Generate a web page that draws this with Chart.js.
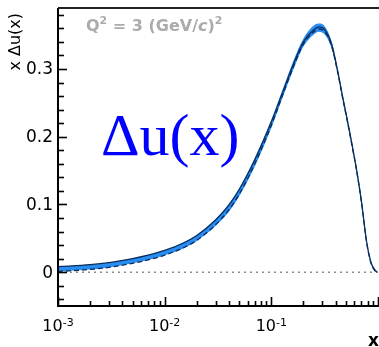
<!DOCTYPE html>
<html>
<head>
<meta charset="utf-8">
<script src="https://cdn.jsdelivr.net/npm/chart.js@4.4.1/dist/chart.umd.min.js"></script>
<style>
  html, body { margin: 0; padding: 0; background: #fff; }
  canvas { display: block; }
</style>
</head>
<body>
<canvas id="pdfChart" width="379" height="347"></canvas>
<script>
// x values (log scale) and x*Delta u(x) curves
const xValues     = [0.001, 0.002, 0.003, 0.005, 0.007, 0.01, 0.015, 0.02, 0.03, 0.04, 0.05, 0.07, 0.1, 0.13, 0.16, 0.2, 0.25, 0.28, 0.32, 0.37, 0.42, 0.47, 0.52, 0.57, 0.63, 0.7, 0.78, 0.85, 0.9, 0.95, 0.98];
const centralLine = [0.008, 0.011, 0.014, 0.020, 0.025, 0.032, 0.043, 0.054, 0.077, 0.099, 0.122, 0.166, 0.222, 0.269, 0.306, 0.340, 0.358, 0.362, 0.357, 0.335, 0.296, 0.256, 0.222, 0.189, 0.151, 0.104, 0.046, 0.017, 0.007, 0.002, 0];
const dashedLine  = [0.001, 0.004, 0.007, 0.013, 0.018, 0.025, 0.036, 0.047, 0.070, 0.092, 0.115, 0.160, 0.217, 0.265, 0.302, 0.337, 0.355, 0.359, 0.354, 0.332, 0.294, 0.254, 0.220, 0.187, 0.150, 0.103, 0.045, 0.016, 0.006, 0.001, 0];
const bandHigh    = [0.008, 0.011, 0.014, 0.020, 0.025, 0.032, 0.044, 0.055, 0.078, 0.101, 0.124, 0.169, 0.225, 0.273, 0.311, 0.345, 0.364, 0.367, 0.362, 0.339, 0.299, 0.259, 0.224, 0.191, 0.153, 0.106, 0.047, 0.018, 0.008, 0.003, 0];
const bandLow     = [0.001, 0.004, 0.007, 0.013, 0.018, 0.025, 0.035, 0.046, 0.068, 0.089, 0.112, 0.156, 0.213, 0.261, 0.298, 0.333, 0.351, 0.355, 0.350, 0.329, 0.292, 0.252, 0.218, 0.186, 0.149, 0.102, 0.044, 0.015, 0.005, 0.001, 0];

const yTickValues = [0, 0.1, 0.2, 0.3];
const yTickLabels = ["0", "0.1", "0.2", "0.3"];
const xTickExponents = [-3, -2, -1];

const NAVY = "#0a2d5e";
const BAND = "rgb(40,140,240)";
const SANS = '"DejaVu Sans", Arial, sans-serif';

function pts(arr) {
    return xValues.map((x, i) => ({ x: x, y: arr[i] }));
}

// zero line, inward ticks, frame and all the text
const frameAndLabels = {
    id: "frameAndLabels",
    beforeDatasetsDraw(chart) {
        const { ctx, chartArea: a, scales: { y } } = chart;
        const y0 = y.getPixelForValue(0);
        ctx.save();
        ctx.strokeStyle = "#8c8c8c";
        ctx.lineWidth = 1.5;
        ctx.setLineDash([2, 4]);
        ctx.beginPath();
        ctx.moveTo(a.left, y0);
        ctx.lineTo(a.right, y0);
        ctx.stroke();
        ctx.restore();
    },
    afterDraw(chart) {
        const { ctx, chartArea: a, scales: { x, y } } = chart;
        ctx.save();

        // frame
        ctx.strokeStyle = "#000";
        ctx.lineWidth = 2;
        ctx.beginPath();
        ctx.moveTo(a.left, a.top);
        ctx.lineTo(a.left, a.bottom);
        ctx.lineTo(a.right + 2, a.bottom);
        ctx.stroke();
        ctx.strokeStyle = "#222";
        ctx.beginPath();
        ctx.moveTo(a.left, a.top);
        ctx.lineTo(a.right + 2, a.top);
        ctx.stroke();

        // y ticks every 0.02, major every 0.1
        ctx.strokeStyle = "#000";
        ctx.lineWidth = 1.6;
        for (let i = -2; i <= 19; i++) {
            const py = Math.round(y.getPixelForValue(i * 0.02)) + 0.5;
            if (py < a.top || py > a.bottom) continue;
            const len = i % 5 === 0 ? 9 : 6;
            ctx.beginPath();
            ctx.moveTo(a.left, py);
            ctx.lineTo(a.left + len, py);
            ctx.stroke();
        }

        // x ticks, log minor ticks
        for (const e of [-3, -2, -1, 0]) {
            for (let m = 1; m <= 9; m++) {
                const v = m * Math.pow(10, e);
                if (v > 1.0001) continue;
                const px = Math.round(x.getPixelForValue(v)) + 0.5;
                const len = m === 1 ? 9 : 5;
                ctx.beginPath();
                ctx.moveTo(px, a.bottom);
                ctx.lineTo(px, a.bottom - len);
                ctx.stroke();
            }
        }

        // y tick labels
        ctx.fillStyle = "#000";
        ctx.font = "17px " + SANS;
        ctx.textAlign = "right";
        ctx.textBaseline = "middle";
        yTickValues.forEach((v, i) => {
            ctx.fillText(yTickLabels[i], a.left - 5, y.getPixelForValue(v) + 1);
        });

        // x tick labels 10^n
        ctx.textAlign = "left";
        ctx.textBaseline = "alphabetic";
        xTickExponents.forEach(e => {
            const px = x.getPixelForValue(Math.pow(10, e));
            ctx.font = "16px " + SANS;
            const wb = ctx.measureText("10").width;
            ctx.font = "11px " + SANS;
            const ws = ctx.measureText(String(e)).width;
            const start = px - (wb + ws) / 2;
            ctx.font = "16px " + SANS;
            ctx.fillText("10", start, a.bottom + 25);
            ctx.font = "11px " + SANS;
            ctx.fillText(String(e), start + wb, a.bottom + 20);
        });

        // axis titles
        ctx.font = "bold 17px " + SANS;
        ctx.textAlign = "right";
        ctx.fillText("x", a.right + 1, a.bottom + 40);

        ctx.save();
        ctx.translate(16, a.top + 5);
        ctx.rotate(-Math.PI / 2);
        ctx.textAlign = "right";
        ctx.textBaseline = "middle";
        ctx.font = "16px " + SANS;
        ctx.fillText("x \u0394u(x)", 0, 0);
        ctx.restore();

        // Q^2 label, grey
        ctx.fillStyle = "#ababab";
        ctx.textAlign = "left";
        let cx = a.left + 28;
        const by = a.top + 23;
        const big = "bold 16px " + SANS;
        const sup = "bold 11px " + SANS;
        const ital = "italic bold 16px " + SANS;
        const parts = [
            ["Q", big, 0], ["2", sup, -7], [" = 3 (GeV/", big, 0],
            ["c", ital, 0], [")", big, 0], ["2", sup, -7]
        ];
        parts.forEach(([t, f, dy]) => {
            ctx.font = f;
            ctx.fillText(t, cx, by + dy);
            cx += ctx.measureText(t).width;
        });

        // big blue label
        ctx.fillStyle = "#0000ff";
        ctx.font = '60px "Liberation Serif", "Times New Roman", serif';
        ctx.fillText("\u0394u(x)", 101, 155);

        ctx.restore();
    }
};

new Chart(document.getElementById("pdfChart"), {
    type: "line",
    data: {
        datasets: [
            {
                label: "central",
                data: pts(centralLine),
                borderColor: NAVY,
                borderWidth: 1.3,
                pointRadius: 0,
                fill: false,
                cubicInterpolationMode: "monotone"
            },
            {
                label: "dashed",
                data: pts(dashedLine),
                borderColor: NAVY,
                borderWidth: 1.3,
                borderDash: [5, 3],
                pointRadius: 0,
                fill: false,
                cubicInterpolationMode: "monotone"
            },
            {
                label: "band high",
                data: pts(bandHigh),
                borderWidth: 0,
                borderColor: BAND,
                backgroundColor: BAND,
                pointRadius: 0,
                fill: "+1",
                cubicInterpolationMode: "monotone"
            },
            {
                label: "band low",
                data: pts(bandLow),
                borderWidth: 0,
                borderColor: BAND,
                pointRadius: 0,
                fill: false,
                cubicInterpolationMode: "monotone"
            }
        ]
    },
    options: {
        responsive: false,
        devicePixelRatio: 1,
        animation: false,
        layout: { padding: { left: 58, top: 8, right: 1, bottom: 41 } },
        plugins: { legend: { display: false }, tooltip: { enabled: false } },
        scales: {
            x: { type: "logarithmic", display: false, min: 0.001, max: 1 },
            y: { type: "linear", display: false, min: -0.05, max: 0.39 }
        }
    },
    plugins: [frameAndLabels]
});
</script>
</body>
</html>
